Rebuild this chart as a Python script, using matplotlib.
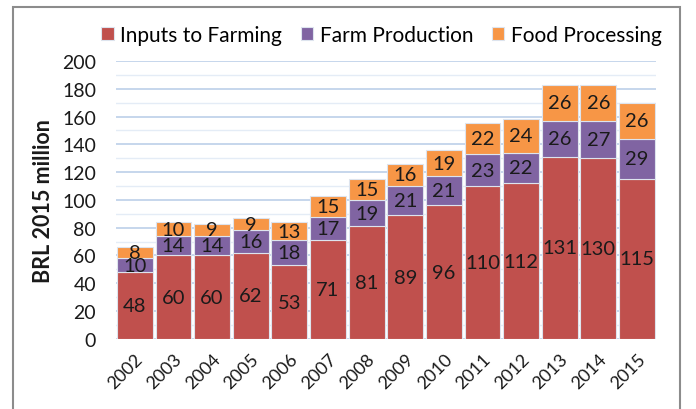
import matplotlib
matplotlib.use("Agg")
import matplotlib.pyplot as plt
from matplotlib.patches import Rectangle
import numpy as np

plt.rcParams['font.family'] = ['Lato', 'DejaVu Sans']

years = ['2002', '2003', '2004', '2005', '2006', '2007', '2008',
         '2009', '2010', '2011', '2012', '2013', '2014', '2015']
inputs_to_farming = [48, 60, 60, 62, 53, 71, 81, 89, 96, 110, 112, 131, 130, 115]
farm_production = [10, 14, 14, 16, 18, 17, 19, 21, 21, 23, 22, 26, 27, 29]
food_processing = [8, 10, 9, 9, 13, 15, 15, 16, 19, 22, 24, 26, 26, 26]

series = [
    ('Inputs to Farming', inputs_to_farming, '#C0504D'),
    ('Farm Production', farm_production, '#8064A2'),
    ('Food Processing', food_processing, '#F79646'),
]

fig = plt.figure(figsize=(6.96, 4.10), dpi=100)
ax = fig.add_axes([0.166, 0.171, 0.777, 0.678])

x = np.arange(len(years))
bottom = np.zeros(len(years))
handles = []
for name, vals, color in series:
    vals = np.array(vals, dtype=float)
    bars = ax.bar(x, vals, width=0.93, bottom=bottom, color=color,
                  edgecolor='#dde4ee', linewidth=0.8, label=name, zorder=3)
    handles.append(bars)
    for xi, b, v in zip(x, bottom, vals):
        ax.text(xi, b + v / 2, f'{int(v)}', ha='center', va='center',
                fontsize=14.5, color='#1a1a1a', zorder=4)
    bottom += vals

ax.set_xlim(-0.5, len(years) - 0.5)
ax.set_ylim(0, 200)
ax.set_yticks(np.arange(0, 201, 20))
ax.set_yticks(np.arange(10, 200, 20), minor=True)
ax.yaxis.grid(True, which='major', color='#c6d6ec', linewidth=1.4, zorder=0)
ax.yaxis.grid(True, which='minor', color='#e4ecf6', linewidth=1.0, zorder=0)
for s in ax.spines.values():
    s.set_visible(False)
ax.tick_params(axis='both', which='both', length=0)
ax.tick_params(axis='y', labelsize=14, colors='#1a1a1a', pad=14)
ax.set_xticks(x)
ax.set_xticklabels(years, rotation=45, ha='right', rotation_mode='anchor',
                   fontsize=13, color='#1a1a1a')
ax.tick_params(axis='x', pad=8)
ax.set_ylabel('BRL 2015 million', fontsize=15.5, fontweight='bold',
              color='#1a1a1a', labelpad=6)

fig.legend(handles=handles, labels=[s[0] for s in series], loc='center',
           bbox_to_anchor=(0.548, 0.912), ncol=3, frameon=False,
           fontsize=15, handlelength=0.6, handleheight=0.6,
           handletextpad=0.3, columnspacing=0.9)

# outer frame
fig.patches.append(Rectangle((13 / 696, -0.05), (680 - 13) / 696, 1 - 8 / 410 + 0.05,
                             transform=fig.transFigure, fill=False,
                             edgecolor='#8c8c8c', linewidth=1.5))

fig.savefig('out.png', dpi=100)
